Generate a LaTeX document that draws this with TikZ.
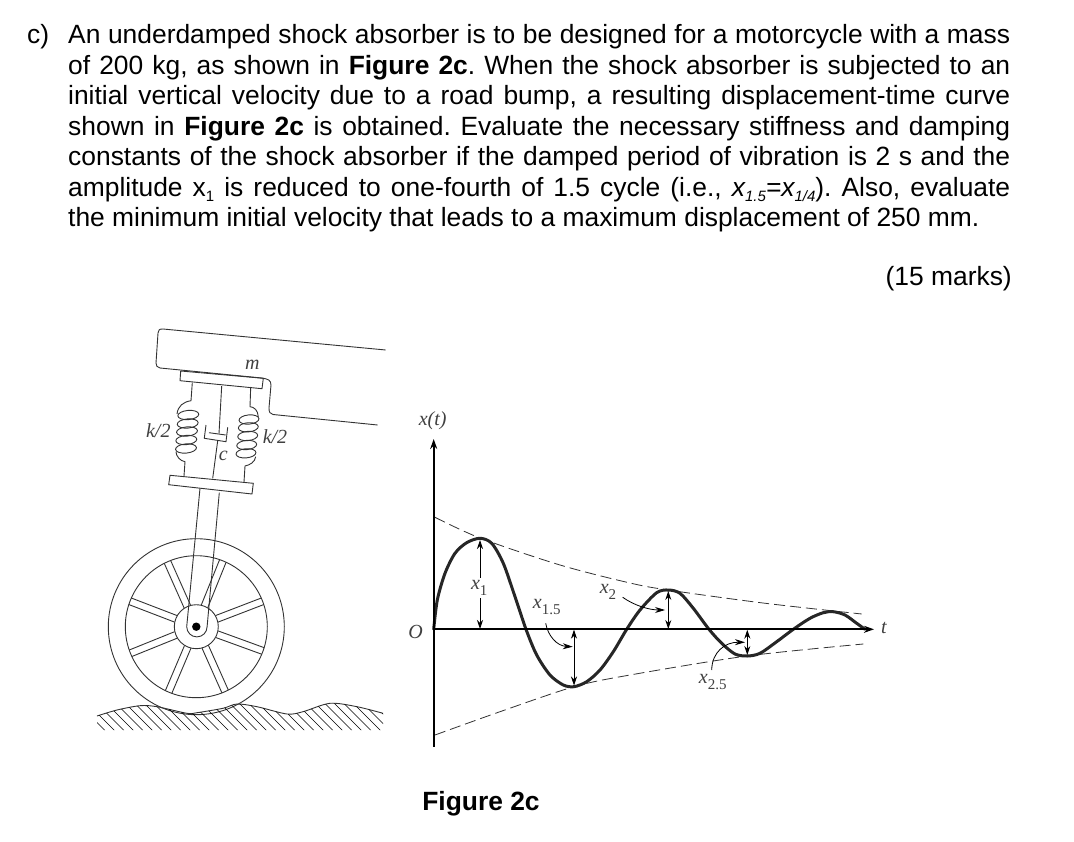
\documentclass[tikz,border=0pt]{standalone}
\usepackage{fontspec}
\setmainfont{Liberation Sans}
\usetikzlibrary{arrows.meta}
\newfontfamily\figserif{Liberation Serif}
\newcommand{\lowsub}[1]{\smash{\raisebox{-.18em}{\fontsize{15}{15}\selectfont #1}}}
\newcommand{\figsub}[1]{\raisebox{-.3em}{\upshape\fontsize{15}{15}\selectfont #1}}
\tikzset{
  para/.style={inner sep=0pt,anchor=north west,text width=942pt,align=justify,
    font=\frenchspacing\fontsize{26.4}{30.5}\selectfont},
  plain/.style={inner sep=0pt,font=\fontsize{26.4}{30}\selectfont},
  fig/.style={inner sep=0pt,font=\figserif\itshape\fontsize{20}{20}\selectfont,text=black!75},
  thin line/.style={line width=.9pt,black!80},
  axis/.style={line width=2pt,-{Stealth[length=10pt,width=7pt]}},
  curve/.style={line width=3pt,line cap=round,black!85},
  envelope/.style={line width=.8pt,dash pattern=on 11pt off 5pt,black!80},
  size/.style={line width=.9pt,{Stealth[length=9pt,width=6pt]}-{Stealth[length=9pt,width=6pt]}},
  leader/.style={line width=.8pt,-{Stealth[length=10pt,width=6pt]}}
}
\begin{document}
\begin{tikzpicture}[x=1pt,y=-1pt]
  \useasboundingbox (0,0) rectangle (1074,842);
  \fill[white] (0,0) rectangle (1074,842);
  % question text
  \node[plain,anchor=base west] (part) at (27,44) {c)};
  \node[para] (question) at (68,24.5) {An underdamped shock absorber is to be designed for a motorcycle with a mass\linebreak
    of 200 kg, as shown in \textbf{Figure 2c}. When the shock absorber is subjected to an\linebreak
    initial vertical velocity due to a road bump, a resulting displacement-time curve\linebreak
    shown in \textbf{Figure 2c} is obtained. Evaluate the necessary stiffness and damping\linebreak
    constants of the shock absorber if the damped period of vibration is 2 s and the\linebreak
    amplitude x\lowsub{1} is reduced to one-fourth of 1.5 cycle (i.e., \textit{x\lowsub{1.5}=x\lowsub{1/4}}). Also, evaluate\linebreak
    the minimum initial velocity that leads to a maximum displacement of 250 mm.};
  \node[plain,anchor=base east] (marks) at (1012,286) {(15 marks)};
  \node[plain,font=\bfseries\fontsize{26.4}{30}\selectfont] (caption) at (481,804) {Figure 2c};

  % motorcycle body
  \draw[thin line] (385.7,350) -- (163,329) .. controls (159,329) and (158.5,330) .. (158,333)
     -- (156,363) .. controls (156,366) and (157,367) .. (160,368)
     -- (261.7,378) .. controls (268,379) and (271,380) .. (271,385)
     -- (269,408) .. controls (269,412) and (270,414) .. (273,414.5)
     -- (377.7,425);
  % plates
  \draw[thin line] (180.7,371) -- (263.3,378.3) -- (262,388.7) -- (180,380.7) -- cycle;
  \draw[thin line] (170,475.3) -- (253.3,483.3) -- (252,494) -- (168.7,484.7) -- cycle;
  % left spring
  \draw[thin line] (192.3,382.7) -- (191,400.7) .. controls (183,402) and (178,406) .. (177,414);
  \draw[thin line] (176,451.7) .. controls (176,456) and (180,461) .. (185,461.7) -- (184,476);
  \foreach \sx/\sy in {188.3/415,187.7/423.5,187/431.5,186.3/440,186/448.5}
    \draw[thin line,shift={(\sx,\sy)},rotate=5] (0,0) ellipse (10.5 and 4.6);
  % right spring
  \draw[thin line] (250.7,387) -- (250,406.7) .. controls (254,407) and (258,410) .. (258.3,417);
  \draw[thin line] (255.7,456.7) .. controls (255,462) and (250,465) .. (245,466) -- (244,482);
  \foreach \sx/\sy in {249/419.5,248.3/427.3,247.7/436,246.7/445,246/453.3}
    \draw[thin line,shift={(\sx,\sy)},rotate=5] (0,0) ellipse (10 and 4.6);
  % damper
  \draw[thin line] (221.7,386) -- (219,433.5);
  \draw[thin line] (206,425) -- (204.3,438.3) -- (226,441.7) -- (227.7,427.3);
  \draw[thin line] (209,432.7) -- (225.7,435);
  \draw[thin line] (217.7,440.7) -- (212.7,478.3);
  % wheel
  \coordinate (hub) at (196.3,626.7);
  \draw[thin line] (hub) circle (88);
  \draw[thin line] (hub) circle (71);
  \draw[thin line] (hub) circle (22);
  \foreach \spk in {114,68,159,21,202,-20,247,-66}{
    \draw[thin line] (hub) ++(-\spk:22) ++(-\spk-90:3.5) -- ++(-\spk:49);
    \draw[thin line] (hub) ++(-\spk:22) ++(-\spk+90:3.5) -- ++(-\spk:49);
  }
  % fork
  \draw[thin line] (200,488.3) -- (186.7,626.7) arc[start angle=180,end angle=0,radius=10.2]
     -- (219.3,492.7);
  \fill[black] (hub) circle (4.2);
  % road
  \draw[thin line] plot[smooth] coordinates {(97,716) (117,710) (140,705.7) (157,706.7) (187,713.3)
     (197,712.7) (223,708.3) (237,704) (257,706.7) (287,714) (303,711.7) (330,703.3) (357,706.7) (383,713.3)} ;
  \begin{scope}
    \clip plot[smooth] coordinates {(97,716) (117,710) (140,705.7) (157,706.7) (187,713.3)
     (197,712.7) (223,708.3) (237,704) (257,706.7) (287,714) (303,711.7) (330,703.3) (357,706.7) (383,713.3)}
     -- (383,730) -- (97,730) -- cycle;
    \foreach \hx in {60,69.5,...,390}
      \draw[line width=.7pt] (\hx,695) -- +(38,38);
  \end{scope}
  \node[fig] (mass) at (252.3,365) {m};
  \node[fig] (kleft) at (158.3,431) {k/2};
  \node[fig] (kright) at (275,436.7) {k/2};
  \node[fig] (damp) at (223.3,455.7) {c};

  % response plot
  \draw[envelope] plot[smooth] coordinates {(435,517.3) (480,538) (560,565) (630,583) (668,590) (763,603) (861.7,614)};
  \draw[envelope] plot[smooth] coordinates {(435,735) (500,711.7) (574,686.7) (630,675) (747,656) (863.3,644)};
  \draw[curve] plot[smooth] coordinates {(433.7,629.3) (437.3,600) (445,573.3) (455,553.3) (466.7,542.7) (480,538.3)
     (491.7,543.3) (503.3,563.3) (515,596.7) (526,629.3) (536.7,655) (550,675) (563.3,685) (574,686.7)
     (586.7,681.7) (600,670) (613.3,651.7) (626.7,629.3) (640,610) (656.7,592.7) (668.3,590)
     (680,593.3) (693.3,608.3) (709,629.3) (721.7,643.3) (735,654) (747.3,656)
     (760,653.3) (776.7,641.7) (793.3,629.3) (810,618.3) (823.3,612.7) (833.3,611.7)
     (845,615) (856.7,623.3) (865,629.3)};
  \coordinate (origin) at (433.7,629.3);
  \coordinate (ytip) at (433.7,439);
  \coordinate (ybot) at (433.7,746.7);
  \coordinate (ttip) at (874,629.3);
  \draw[axis] (ybot) -- (ytip);
  \draw[axis] (origin) -- (ttip);
  \draw[size] (480,540) -- (480,629);
  \draw[size] (574,629.7) -- (574,685.5);
  \draw[size] (668.3,591) -- (668.3,629);
  \draw[size] (747.3,629.7) -- (747.3,655);
  \draw[leader] (545.7,623.3) .. controls (548,636) and (557,646) .. (572.7,646.7);
  \draw[leader] (622.7,597.3) .. controls (635,606) and (650,610) .. (665,610);
  \draw[leader] (711.7,670) .. controls (712,652) and (725,642) .. (745,642.3);
  \node[fig] (ylabel) at (432.7,420.7) {x(t)};
  \node[fig] (zero) at (415.7,631.7) {O};
  \node[fig] (tlabel) at (884,628) {t};
  \node[fig,fill=white,inner ysep=2pt] (amp) at (479.3,588) {x\figsub{1}};
  \node[fig] (ampa) at (546.7,606.7) {x\figsub{1.5}};
  \node[fig] (ampb) at (608,592) {x\figsub{2}};
  \node[fig] (ampc) at (712.7,681.7) {x\figsub{2.5}};
\end{tikzpicture}
\end{document}
